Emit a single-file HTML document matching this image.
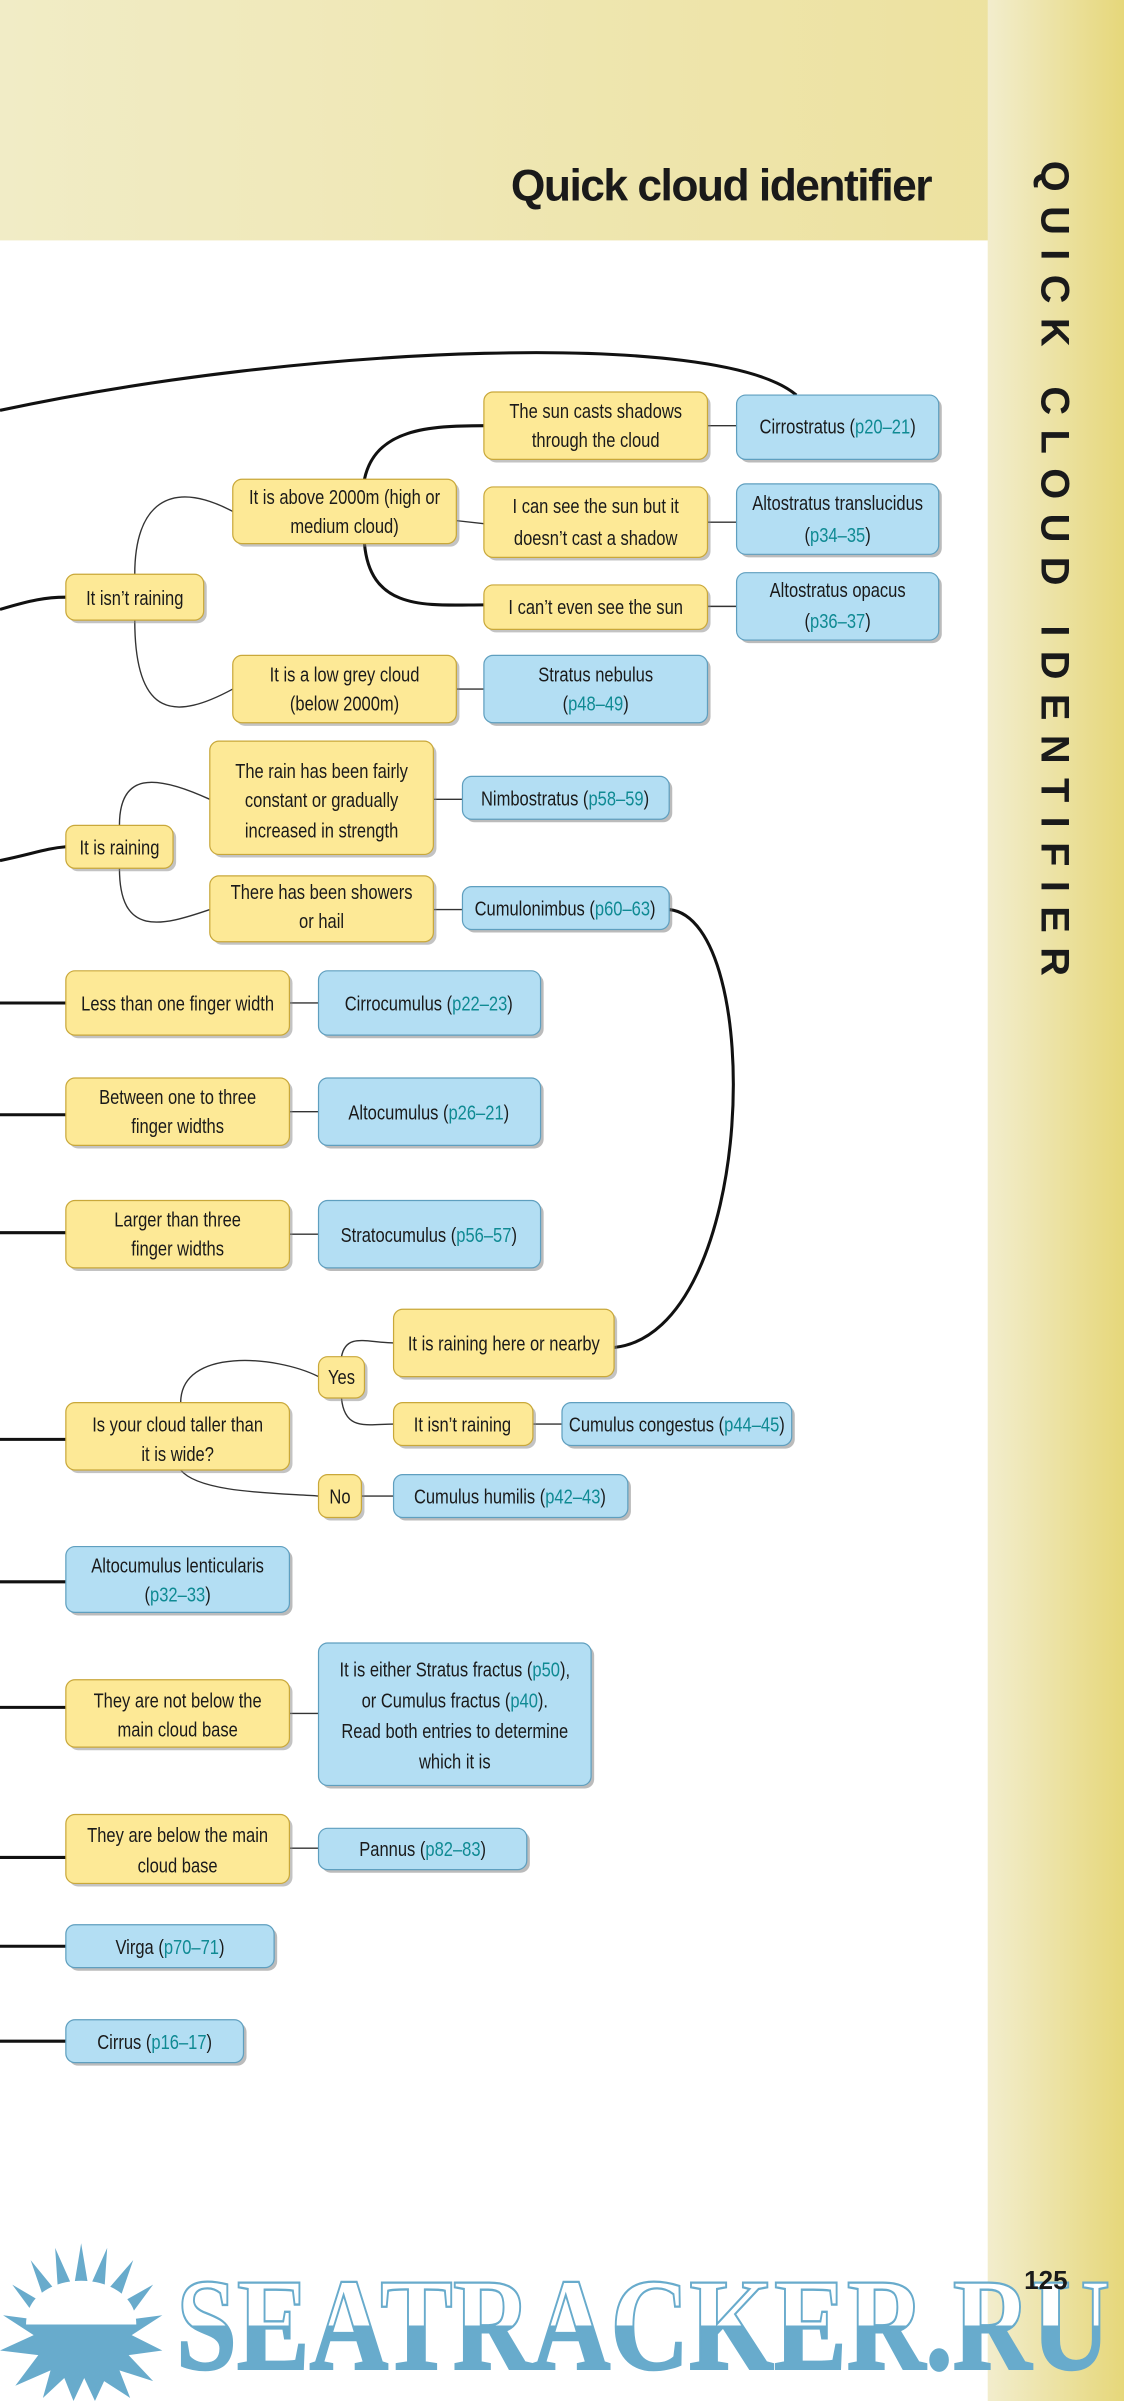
<!DOCTYPE html>
<html><head><meta charset="utf-8"><style>
html,body{margin:0;padding:0;background:#fff}
svg{display:block}
text{font-family:"Liberation Sans",sans-serif;font-size:13.5px;fill:#1a1a1a}
.p{fill:#0f8a93}
</style></head><body>
<svg width="1124" height="2401" viewBox="0 0 734 1568" preserveAspectRatio="none" xmlns="http://www.w3.org/2000/svg">
<defs>
<linearGradient id="top" x1="0" x2="1" y1="0" y2="0"><stop offset="0" stop-color="#f1ecc6"/><stop offset="1" stop-color="#ece09a"/></linearGradient>
<linearGradient id="side" x1="0" x2="1" y1="0" y2="0"><stop offset="0" stop-color="#f2edcd"/><stop offset="1" stop-color="#e6d77a"/></linearGradient>
<linearGradient id="wm" x1="0" x2="0" y1="0" y2="1"><stop offset="0.5" stop-color="#fff"/><stop offset="0.5" stop-color="#68abcc"/></linearGradient>
</defs>
<rect x="0" y="0" width="734" height="157" fill="url(#top)"/>
<rect x="645" y="0" width="89" height="1568" fill="url(#side)"/>
<text x="608" y="131" text-anchor="end" style="font-family:'Liberation Sans',sans-serif;font-weight:bold;font-size:29px;letter-spacing:-1px">Quick cloud identifier</text>
<text transform="translate(680,105) rotate(90)" style="font-family:'Liberation Sans',sans-serif;font-weight:bold;font-size:26px;letter-spacing:9.4px">QUICK CLOUD IDENTIFIER</text>

<g fill="none" stroke="#111" stroke-width="2">
<path d="M0,268 C200,225 470,215 520,258"/>
<path d="M0,398 C20,392 30,390 43,390"/>
<path d="M0,562 C20,558 30,554 43,553"/>
<path d="M0,655 H43 M0,728 H43 M0,805 H43 M0,940 H43 M0,1033 H43 M0,1115 H43 M0,1213 H43 M0,1271 H43 M0,1333 H43"/>
<path d="M437,594 C500,600 495,870 401,880"/>
<path d="M238,313 C245,280 280,278 316,278"/>
<path d="M238,355 C242,400 280,395 316,395"/>
</g>
<g fill="none" stroke="#333" stroke-width="0.9">
<path d="M88,375 C88,330 110,312 152,334"/>
<path d="M88,405 C88,470 115,470 152,450"/>
<path d="M298,340 L316,342 M462,278 H481 M462,341 H481 M462,396 H481 M298,450 H316 M283,522 H302 M283,594 H302 M189,655 H208 M189,726 H208 M189,806 H208 M348,930 H367 M236,977 H257 M189,1119 H208 M189,1207 H208"/>
<path d="M78,539 C78,505 100,505 137,522"/>
<path d="M78,567 C78,612 105,605 137,594"/>
<path d="M118,916 C118,880 180,885 208,899"/>
<path d="M118,960 C130,975 180,975 208,977"/>
<path d="M223,886 C226,870 240,877 257,877"/>
<path d="M223,913 C225,935 240,930 257,930"/>
</g>

<g id="boxes">
<g stroke="#c9a83a" stroke-width="0.8">
<rect x="318" y="258" width="146" height="44" rx="6" fill="#888" stroke="none" opacity=".5"/><rect x="316" y="256" width="146" height="44" rx="6" fill="#fde996"/>
<rect x="154" y="315" width="146" height="42" rx="6" fill="#888" stroke="none" opacity=".5"/><rect x="152" y="313" width="146" height="42" rx="6" fill="#fde996"/>
<rect x="318" y="320" width="146" height="46" rx="6" fill="#888" stroke="none" opacity=".5"/><rect x="316" y="318" width="146" height="46" rx="6" fill="#fde996"/>
<rect x="318" y="384" width="146" height="29" rx="6" fill="#888" stroke="none" opacity=".5"/><rect x="316" y="382" width="146" height="29" rx="6" fill="#fde996"/>
<rect x="45" y="377" width="90" height="30" rx="6" fill="#888" stroke="none" opacity=".5"/><rect x="43" y="375" width="90" height="30" rx="6" fill="#fde996"/>
<rect x="154" y="430" width="146" height="44" rx="6" fill="#888" stroke="none" opacity=".5"/><rect x="152" y="428" width="146" height="44" rx="6" fill="#fde996"/>
<rect x="139" y="486" width="146" height="74" rx="6" fill="#888" stroke="none" opacity=".5"/><rect x="137" y="484" width="146" height="74" rx="6" fill="#fde996"/>
<rect x="45" y="541" width="70" height="28" rx="6" fill="#888" stroke="none" opacity=".5"/><rect x="43" y="539" width="70" height="28" rx="6" fill="#fde996"/>
<rect x="139" y="574" width="146" height="43" rx="6" fill="#888" stroke="none" opacity=".5"/><rect x="137" y="572" width="146" height="43" rx="6" fill="#fde996"/>
<rect x="45" y="636" width="146" height="42" rx="6" fill="#888" stroke="none" opacity=".5"/><rect x="43" y="634" width="146" height="42" rx="6" fill="#fde996"/>
<rect x="45" y="706" width="146" height="44" rx="6" fill="#888" stroke="none" opacity=".5"/><rect x="43" y="704" width="146" height="44" rx="6" fill="#fde996"/>
<rect x="45" y="786" width="146" height="44" rx="6" fill="#888" stroke="none" opacity=".5"/><rect x="43" y="784" width="146" height="44" rx="6" fill="#fde996"/>
<rect x="259" y="857" width="144" height="44" rx="6" fill="#888" stroke="none" opacity=".5"/><rect x="257" y="855" width="144" height="44" rx="6" fill="#fde996"/>
<rect x="210" y="888" width="30" height="27" rx="6" fill="#888" stroke="none" opacity=".5"/><rect x="208" y="886" width="30" height="27" rx="6" fill="#fde996"/>
<rect x="45" y="918" width="146" height="44" rx="6" fill="#888" stroke="none" opacity=".5"/><rect x="43" y="916" width="146" height="44" rx="6" fill="#fde996"/>
<rect x="259" y="918" width="91" height="28" rx="6" fill="#888" stroke="none" opacity=".5"/><rect x="257" y="916" width="91" height="28" rx="6" fill="#fde996"/>
<rect x="210" y="965" width="28" height="28" rx="6" fill="#888" stroke="none" opacity=".5"/><rect x="208" y="963" width="28" height="28" rx="6" fill="#fde996"/>
<rect x="45" y="1099" width="146" height="44" rx="6" fill="#888" stroke="none" opacity=".5"/><rect x="43" y="1097" width="146" height="44" rx="6" fill="#fde996"/>
<rect x="45" y="1187" width="146" height="45" rx="6" fill="#888" stroke="none" opacity=".5"/><rect x="43" y="1185" width="146" height="45" rx="6" fill="#fde996"/>
</g>
<g stroke="#5f9fbf" stroke-width="0.8">
<rect x="483" y="260" width="132" height="42" rx="6" fill="#777" stroke="none" opacity=".5"/><rect x="481" y="258" width="132" height="42" rx="6" fill="#b3def3"/>
<rect x="483" y="318" width="132" height="46" rx="6" fill="#777" stroke="none" opacity=".5"/><rect x="481" y="316" width="132" height="46" rx="6" fill="#b3def3"/>
<rect x="483" y="376" width="132" height="44" rx="6" fill="#777" stroke="none" opacity=".5"/><rect x="481" y="374" width="132" height="44" rx="6" fill="#b3def3"/>
<rect x="318" y="430" width="146" height="44" rx="6" fill="#777" stroke="none" opacity=".5"/><rect x="316" y="428" width="146" height="44" rx="6" fill="#b3def3"/>
<rect x="304" y="509" width="135" height="28" rx="6" fill="#777" stroke="none" opacity=".5"/><rect x="302" y="507" width="135" height="28" rx="6" fill="#b3def3"/>
<rect x="304" y="581" width="135" height="28" rx="6" fill="#777" stroke="none" opacity=".5"/><rect x="302" y="579" width="135" height="28" rx="6" fill="#b3def3"/>
<rect x="210" y="636" width="145" height="42" rx="6" fill="#777" stroke="none" opacity=".5"/><rect x="208" y="634" width="145" height="42" rx="6" fill="#b3def3"/>
<rect x="210" y="706" width="145" height="44" rx="6" fill="#777" stroke="none" opacity=".5"/><rect x="208" y="704" width="145" height="44" rx="6" fill="#b3def3"/>
<rect x="210" y="786" width="145" height="44" rx="6" fill="#777" stroke="none" opacity=".5"/><rect x="208" y="784" width="145" height="44" rx="6" fill="#b3def3"/>
<rect x="369" y="918" width="150" height="28" rx="6" fill="#777" stroke="none" opacity=".5"/><rect x="367" y="916" width="150" height="28" rx="6" fill="#b3def3"/>
<rect x="259" y="965" width="153" height="28" rx="6" fill="#777" stroke="none" opacity=".5"/><rect x="257" y="963" width="153" height="28" rx="6" fill="#b3def3"/>
<rect x="45" y="1012" width="146" height="43" rx="6" fill="#777" stroke="none" opacity=".5"/><rect x="43" y="1010" width="146" height="43" rx="6" fill="#b3def3"/>
<rect x="210" y="1075" width="178" height="93" rx="6" fill="#777" stroke="none" opacity=".5"/><rect x="208" y="1073" width="178" height="93" rx="6" fill="#b3def3"/>
<rect x="210" y="1196" width="136" height="27" rx="6" fill="#777" stroke="none" opacity=".5"/><rect x="208" y="1194" width="136" height="27" rx="6" fill="#b3def3"/>
<rect x="45" y="1259" width="136" height="28" rx="6" fill="#777" stroke="none" opacity=".5"/><rect x="43" y="1257" width="136" height="28" rx="6" fill="#b3def3"/>
<rect x="45" y="1321" width="116" height="28" rx="6" fill="#777" stroke="none" opacity=".5"/><rect x="43" y="1319" width="116" height="28" rx="6" fill="#b3def3"/>
</g>
</g>

<g text-anchor="middle" transform="scale(0.8,1)">
<text x="486.25" y="273">The sun casts shadows</text><text x="486.25" y="292">through the cloud</text>
<text x="683.75" y="283">Cirrostratus (<tspan class="p">p20–21</tspan>)</text>
<text x="281.25" y="329">It is above 2000m (high or</text><text x="281.25" y="348">medium cloud)</text>
<text x="486.25" y="335">I can see the sun but it</text><text x="486.25" y="356">doesn’t cast a shadow</text>
<text x="683.75" y="333">Altostratus translucidus</text><text x="683.75" y="354">(<tspan class="p">p34–35</tspan>)</text>
<text x="486.25" y="401">I can’t even see the sun</text>
<text x="683.75" y="390">Altostratus opacus</text><text x="683.75" y="410">(<tspan class="p">p36–37</tspan>)</text>
<text x="110" y="395">It isn’t raining</text>
<text x="281.25" y="445">It is a low grey cloud</text><text x="281.25" y="464">(below 2000m)</text>
<text x="486.25" y="445">Stratus nebulus</text><text x="486.25" y="464">(<tspan class="p">p48–49</tspan>)</text>
<text x="262.5" y="508">The rain has been fairly</text><text x="262.5" y="527">constant or gradually</text><text x="262.5" y="547">increased in strength</text>
<text x="461.25" y="526">Nimbostratus (<tspan class="p">p58–59</tspan>)</text>
<text x="97.5" y="558">It is raining</text>
<text x="262.5" y="587">There has been showers</text><text x="262.5" y="606">or hail</text>
<text x="461.25" y="598">Cumulonimbus (<tspan class="p">p60–63</tspan>)</text>
<text x="145" y="660">Less than one finger width</text>
<text x="350" y="660">Cirrocumulus (<tspan class="p">p22–23</tspan>)</text>
<text x="145" y="721">Between one to three</text><text x="145" y="740">finger widths</text>
<text x="350" y="731">Altocumulus (<tspan class="p">p26–21</tspan>)</text>
<text x="145" y="801">Larger than three</text><text x="145" y="820">finger widths</text>
<text x="350" y="811">Stratocumulus (<tspan class="p">p56–57</tspan>)</text>
<text x="411.25" y="882">It is raining here or nearby</text>
<text x="278.75" y="904">Yes</text>
<text x="145" y="935">Is your cloud taller than</text><text x="145" y="954">it is wide?</text>
<text x="377.5" y="935">It isn’t raining</text>
<text x="552.5" y="935">Cumulus congestus (<tspan class="p">p44–45</tspan>)</text>
<text x="277.5" y="982">No</text>
<text x="416.25" y="982">Cumulus humilis (<tspan class="p">p42–43</tspan>)</text>
<text x="145" y="1027">Altocumulus lenticularis</text><text x="145" y="1046">(<tspan class="p">p32–33</tspan>)</text>
<text x="145" y="1115">They are not below the</text><text x="145" y="1134">main cloud base</text>
<text x="371.25" y="1095">It is either Stratus fractus (<tspan class="p">p50</tspan>),</text>
<text x="371.25" y="1115">or Cumulus fractus (<tspan class="p">p40</tspan>).</text>
<text x="371.25" y="1135">Read both entries to determine</text>
<text x="371.25" y="1155">which it is</text>
<text x="145" y="1203">They are below the main</text><text x="145" y="1223">cloud base</text>
<text x="345" y="1212">Pannus (<tspan class="p">p82–83</tspan>)</text>
<text x="138.75" y="1276">Virga (<tspan class="p">p70–71</tspan>)</text>
<text x="126.25" y="1338">Cirrus (<tspan class="p">p16–17</tspan>)</text>
</g>

<g fill="#68abcc">
<polygon points="53,1465 58,1495 70,1468 68,1498 87,1476 77,1505 100,1492 83,1515 106,1512 86,1525 106,1535 84,1538 100,1555 78,1548 85,1566 68,1555 62,1568 55,1553 48,1568 42,1553 28,1566 33,1548 10,1558 25,1538 0,1535 22,1525 2,1512 25,1515 8,1492 30,1505 20,1476 38,1498 36,1468 48,1495"/>
<path d="M17,1518 C17,1480 89,1480 89,1518 Z" fill="#fff"/>
</g>
<text x="115" y="1547" textLength="610" lengthAdjust="spacingAndGlyphs" style="font-family:'Liberation Serif',serif;font-weight:bold;font-size:86px;fill:url(#wm);stroke:#68abcc;stroke-width:1.5">SEATRACKER.RU</text>
<text x="683" y="1495" text-anchor="middle" style="font-size:17px;font-weight:bold">125</text>
</svg>
</body></html>
